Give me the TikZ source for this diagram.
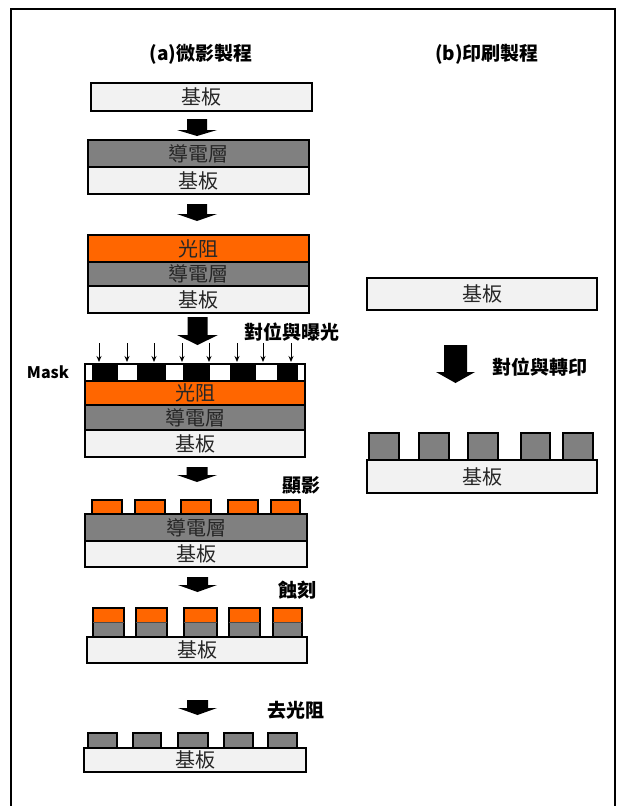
\documentclass[tikz,border=0pt]{standalone}
\usepackage{fontspec}
\setmainfont{Noto Sans CJK TC}
\usetikzlibrary{arrows.meta}
\definecolor{subc}{HTML}{F2F2F2}
\definecolor{condc}{HTML}{808080}
\definecolor{resc}{HTML}{FF6600}
\tikzset{
  layer/.style={draw=black, line width=1.3pt, inner sep=0pt, font=\fontsize{20}{20}\selectfont, text=black!85},
  sub/.style={layer, fill=subc},
  cond/.style={layer, fill=condc},
  res/.style={layer, fill=resc},
  pad/.style={draw=black, line width=1.2pt},
  title/.style={font=\fontsize{19}{19}\selectfont\bfseries},
  steplabel/.style={font=\fontsize{19}{19}\selectfont\bfseries},
  blk/.style={fill=black},
  expo/.style={line width=1pt, -{Stealth[length=6pt,width=5pt]}}
}
% layer box: name, style, x1, y1, x2, y2, text
\newcommand\lyr[7]{\node[#2, minimum width={#5-#3}, minimum height={#6-#4}] (#1) at ({(#3+#5)/2},{(#4+#6)/2}) {#7};}
% pad rectangle: style, x1, y1, x2, y2
\newcommand\padbox[5]{\draw[pad, fill=#1] (#2,#3) rectangle (#4,#5);}
% block arrow: x, ytop, ybot, yhead, half shaft, half head
\newcommand\blkarrow[6]{\fill[blk] ({#1-#5},#2) -- ({#1+#5},#2) -- ({#1+#5},#4) -- ({#1+#6},#4) -- (#1,#3) -- ({#1-#6},#4) -- ({#1-#5},#4) -- cycle;}
\begin{document}
\begin{tikzpicture}[x=1pt,y=-1pt]
\useasboundingbox (0,0) rectangle (616,806);
\draw[line width=2pt] (11,830) -- (11,9) -- (615,9) -- (615,830);

% titles
\node[title] (ta) at (201,54) {(a)微影製程};
\node[title] (tb) at (487,54) {(b)印刷製程};

% step 1
\lyr{s1}{sub}{91}{83}{312}{111}{基板}
\blkarrow{197}{119}{136}{130}{10}{20}

% step 2
\lyr{c2}{cond}{88}{140}{309}{167}{導電層}
\lyr{s2}{sub}{88}{167}{309}{194}{基板}
\blkarrow{197}{204}{221}{214}{10}{20}

% step 3
\lyr{r3}{res}{88}{235}{309}{262}{光阻}
\lyr{c3}{cond}{88}{262}{309}{286}{導電層}
\lyr{s3}{sub}{88}{286}{309}{313}{基板}
\blkarrow{197.5}{317}{345}{335}{10}{20.5}
\node[steplabel] (l3) at (292,332) {對位與曝光};

% exposure arrows
\foreach \xx in {99,127,154,182,209,237,263,291}{
  \draw[expo] (\xx,343) -- (\xx,362);
}

% mask
\node[font=\fontsize{16}{16}\selectfont\bfseries] (mk) at (48,372) {Mask};
\draw[line width=1.3pt, fill=white] (85,364) rectangle (305,381);
\foreach \a/\b in {92/118,137/166,183/210,230/256,277/298}{
  \fill[black] (\a,364) rectangle (\b,381);
}
\draw[line width=1.3pt] (85,364) rectangle (305,381);
\lyr{r4}{res}{85}{381}{305}{405}{光阻}
\lyr{c4}{cond}{85}{405}{305}{430}{導電層}
\lyr{s4}{sub}{85}{430}{305}{457}{基板}

\blkarrow{197}{467}{482}{475}{10.5}{20}
\node[steplabel] (l4) at (301,485) {顯影};

% developed
\foreach \a/\b in {92/122,135/165,181/211,228/258,271/300}{
  \padbox{resc}{\a}{500}{\b}{514}
}
\lyr{c5}{cond}{85}{514}{307}{541}{導電層}
\lyr{s5}{sub}{85}{541}{307}{567}{基板}

\blkarrow{197.5}{577}{592}{585}{10.5}{19.5}
\node[steplabel] (l5) at (297,590) {蝕刻};

% etched
\foreach \a/\b in {93/124,136/167,184/217,229/260,273/302}{
  \fill[condc] (\a,622) rectangle (\b,637);
  \fill[resc] (\a,608) rectangle (\b,622);
  \draw[line width=1.2pt] (\a,637) -- (\a,608) -- (\b,608) -- (\b,637);
  \draw[line width=0.8pt, black!70] (\a,622) -- (\b,622);
}
\lyr{s6}{sub}{87}{637}{307}{663}{基板}

\blkarrow{197.5}{700}{715}{708}{10.5}{19.5}
\node[steplabel] (l6) at (296,710) {去光阻};

% stripped
\foreach \a/\b in {88/117,133/161,178/208,224/253,268/297}{
  \padbox{condc}{\a}{733}{\b}{748}
}
\lyr{s7}{sub}{84}{748}{306}{772}{基板}

% right column
\lyr{sb1}{sub}{367}{278}{597}{310}{基板}
\blkarrow{455.5}{345}{383}{372}{11.5}{19.5}
\node[steplabel] (lb) at (540,367) {對位與轉印};
\foreach \a/\b in {369/399,419/449,468/498,521/550,563/593}{
  \padbox{condc}{\a}{433}{\b}{460}
}
\lyr{sb2}{sub}{367}{460}{597}{493}{基板}
\end{tikzpicture}
\end{document}
